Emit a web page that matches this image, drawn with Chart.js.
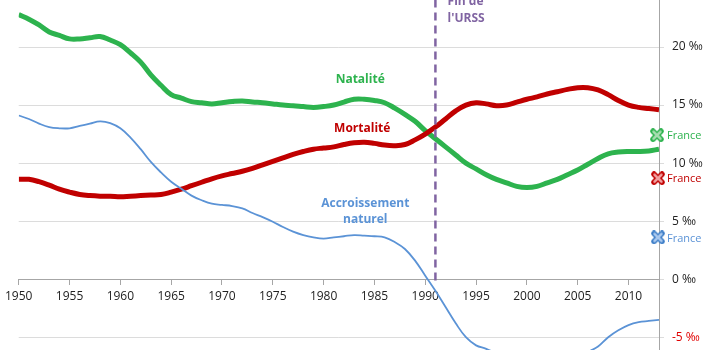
<!DOCTYPE html>
<html>
<head>
<meta charset="utf-8">
<script src="https://cdn.jsdelivr.net/npm/chart.js@4.4.1/dist/chart.umd.min.js"></script>
<style>
  body { margin: 0; background: #fff; }
  #wrap { width: 710px; height: 350px; }
</style>
</head>
<body>
<div id="wrap"><canvas id="demoChart"></canvas></div>
<script>
// Years and rates (per mille)
const years = [];
for (let y = 1950; y <= 2013; y++) years.push(y);

const natalite = [
  22.8, 22.4, 21.9, 21.3, 21.0, 20.7, 20.7, 20.8, 20.9, 20.6,
  20.2, 19.5, 18.7, 17.6, 16.7, 15.9, 15.6, 15.3, 15.2, 15.1,
  15.2, 15.3, 15.35, 15.26, 15.2, 15.1, 15.0, 14.95, 14.87, 14.8,
  14.87, 15.0, 15.26, 15.5, 15.5, 15.4, 15.2, 14.74, 14.2, 13.6,
  12.8, 12.1, 11.4, 10.7, 10.0, 9.5, 9.0, 8.6, 8.3, 8.0,
  7.9, 8.0, 8.3, 8.6, 9.0, 9.4, 9.9, 10.4, 10.8, 10.95,
  11.0, 11.0, 11.05, 11.2
];

const mortalite = [
  8.6, 8.6, 8.4, 8.1, 7.75, 7.5, 7.3, 7.2, 7.15, 7.15,
  7.1, 7.15, 7.2, 7.25, 7.3, 7.5, 7.75, 8.05, 8.35, 8.65,
  8.9, 9.1, 9.3, 9.55, 9.85, 10.15, 10.45, 10.75, 11.0, 11.2,
  11.3, 11.4, 11.6, 11.75, 11.8, 11.7, 11.55, 11.5, 11.6, 12.0,
  12.5, 13.1, 13.8, 14.5, 15.0, 15.2, 15.1, 14.95, 15.0, 15.25,
  15.5, 15.7, 15.95, 16.15, 16.35, 16.5, 16.5, 16.3, 15.9, 15.4,
  15.0, 14.8, 14.7, 14.6
];

const accroissement = [
  14.1, 13.8, 13.4, 13.1, 13.0, 13.0, 13.2, 13.4, 13.6, 13.45,
  13.0, 12.2, 11.2, 10.1, 9.2, 8.4, 7.8, 7.2, 6.8, 6.5,
  6.4, 6.3, 6.1, 5.7, 5.35, 4.95, 4.5, 4.1, 3.8, 3.6,
  3.5, 3.6, 3.7, 3.8, 3.75, 3.7, 3.6, 3.2, 2.6, 1.6,
  0.3, -1.0, -2.4, -3.8, -5.0, -5.7, -6.0, -6.4, -6.8, -7.2,
  -7.5, -7.6, -7.6, -7.5, -7.3, -7.0, -6.3, -5.8, -5.0, -4.4,
  -3.95, -3.7, -3.6, -3.5
];

// France values shown as markers on the right edge
const franceYear = 2013;
const franceNatalite = 12.4;
const franceMortalite = 8.7;
const franceAccroissement = 3.6;

const ussrYear = 1991;

const xTicks = [1950, 1955, 1960, 1965, 1970, 1975, 1980, 1985, 1990, 1995, 2000, 2005, 2010];
const yTicks = [-5, 0, 5, 10, 15, 20];

const GREEN = '#2db34e';
const RED = '#c00000';
const BLUE = '#5b93d6';
const PURPLE = '#8064a2';

function toPoints(values) {
  return values.map((v, i) => ({ x: years[i], y: v }));
}

// Thick X marker with a light fill
function makeCross(dark, light) {
  const c = document.createElement('canvas');
  c.width = 14; c.height = 14;
  const g = c.getContext('2d');
  g.lineCap = 'round';
  g.strokeStyle = dark; g.lineWidth = 5.5;
  g.beginPath(); g.moveTo(3, 3); g.lineTo(11, 11); g.moveTo(11, 3); g.lineTo(3, 11); g.stroke();
  g.strokeStyle = light; g.lineWidth = 2.5;
  g.beginPath(); g.moveTo(3.5, 3.5); g.lineTo(10.5, 10.5); g.moveTo(10.5, 3.5); g.lineTo(3.5, 10.5); g.stroke();
  return c;
}

// Text labels drawn at data coordinates
const textLabels = [
  { text: 'Natalité', x: 1983.6, y: 17.2, color: GREEN, align: 'center' },
  { text: 'Mortalité', x: 1983.8, y: 13.0, color: RED, align: 'center' },
  { text: 'Accroissement', x: 1984.1, y: 6.55, color: BLUE, align: 'center' },
  { text: 'naturel', x: 1984.1, y: 5.1, color: BLUE, align: 'center' },
  { text: 'Fin de', x: 1992.2, y: 23.9, color: PURPLE, align: 'left' },
  { text: "l'URSS", x: 1992.2, y: 22.45, color: PURPLE, align: 'left' }
];

const labelPlugin = {
  id: 'labels',
  afterDatasetsDraw(chart) {
    const ctx = chart.ctx;
    const xs = chart.scales.x, ys = chart.scales.y;
    ctx.save();
    ctx.textBaseline = 'middle';
    ctx.font = 'bold 12px "Open Sans"';
    textLabels.forEach(l => {
      ctx.fillStyle = l.color;
      ctx.textAlign = l.align;
      ctx.fillText(l.text, xs.getPixelForValue(l.x), ys.getPixelForValue(l.y));
    });
    // "France" labels next to the markers
    ctx.font = '11px "Open Sans"';
    ctx.textAlign = 'left';
    [[franceNatalite, GREEN], [franceMortalite, RED], [franceAccroissement, BLUE]].forEach(f => {
      ctx.fillStyle = f[1];
      ctx.fillText('France', xs.getPixelForValue(franceYear) + 8, ys.getPixelForValue(f[0]) + 1);
    });
    ctx.restore();
  }
};

new Chart(document.getElementById('demoChart'), {
  type: 'line',
  data: {
    datasets: [
      {
        data: [{ x: ussrYear, y: 24.1 }, { x: ussrYear, y: -0.3 }],
        borderColor: PURPLE, borderWidth: 2.5, borderDash: [8, 5],
        pointRadius: 0, tension: 0
      },
      {
        data: toPoints(accroissement),
        borderColor: BLUE, borderWidth: 1.8, pointRadius: 0, tension: 0.4
      },
      {
        data: toPoints(mortalite),
        borderColor: RED, borderWidth: 5, pointRadius: 0, tension: 0.4
      },
      {
        data: toPoints(natalite),
        borderColor: GREEN, borderWidth: 5, pointRadius: 0, tension: 0.4
      },
      {
        data: [{ x: franceYear - 0.2, y: franceNatalite }],
        showLine: false, clip: false,
        pointStyle: makeCross(GREEN, '#a6dcb0')
      },
      {
        data: [{ x: franceYear - 0.1, y: franceMortalite }],
        showLine: false, clip: false,
        pointStyle: makeCross(RED, '#f0a0a0')
      },
      {
        data: [{ x: franceYear - 0.1, y: franceAccroissement }],
        showLine: false, clip: false,
        pointStyle: makeCross('#3f7fc8', '#a9c8ee')
      }
    ]
  },
  options: {
    responsive: true,
    maintainAspectRatio: false,
    animation: false,
    layout: { autoPadding: false, padding: { left: 17, top: 0, bottom: 0, right: 0 } },
    plugins: { legend: { display: false }, tooltip: { enabled: false } },
    scales: {
      x: {
        type: 'linear',
        min: 1950, max: 2013,
        position: { y: 0 },
        afterBuildTicks: scale => { scale.ticks = xTicks.map(v => ({ value: v })); },
        grid: { drawOnChartArea: false, tickLength: 5, color: '#a6a6a6' },
        border: { color: '#a6a6a6', width: 1 },
        ticks: {
          color: '#222', padding: 5, maxRotation: 0, autoSkip: false,
          font: { family: 'Open Sans', size: 12 },
          callback: v => String(v)
        }
      },
      y: {
        position: 'right',
        min: -6.1, max: 24.05,
        afterBuildTicks: scale => { scale.ticks = yTicks.map(v => ({ value: v })); },
        afterFit: scale => {
          scale.width = 51;
          scale.paddingTop = 0;
          scale.paddingBottom = 0;
        },
        grid: { color: '#dcdcdc', tickLength: 5 },
        border: { color: '#a6a6a6', width: 1 },
        ticks: {
          padding: 8,
          font: { family: 'Open Sans', size: 12 },
          color: ctx => ctx.tick.value < 0 ? '#e00000' : '#222',
          callback: v => v + ' ‰'
        }
      }
    }
  },
  plugins: [labelPlugin]
});
</script>
</body>
</html>
